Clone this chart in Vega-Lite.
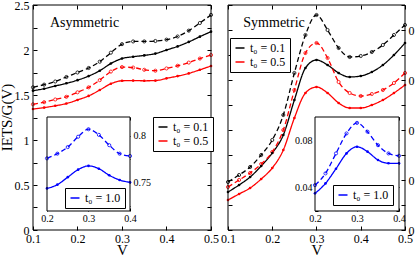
{
 "$schema": "https://vega.github.io/schema/vega-lite/v6.json",
 "width": 415, "height": 256, "autosize": {"type": "none"}, "padding": 0,
 "background": "white",
 "datasets": {
  "asym": [
   {"x":0.1,"y":1.585,"t":"t₀ = 0.1","set":"b"},{"x":0.125,"y":1.615,"t":"t₀ = 0.1","set":"b"},{"x":0.15,"y":1.65,"t":"t₀ = 0.1","set":"b"},{"x":0.175,"y":1.70,"t":"t₀ = 0.1","set":"b"},{"x":0.2,"y":1.75,"t":"t₀ = 0.1","set":"b"},{"x":0.225,"y":1.80,"t":"t₀ = 0.1","set":"b"},{"x":0.25,"y":1.87,"t":"t₀ = 0.1","set":"b"},{"x":0.275,"y":1.97,"t":"t₀ = 0.1","set":"b"},{"x":0.3,"y":2.065,"t":"t₀ = 0.1","set":"b"},{"x":0.325,"y":2.095,"t":"t₀ = 0.1","set":"b"},{"x":0.35,"y":2.095,"t":"t₀ = 0.1","set":"b"},{"x":0.375,"y":2.10,"t":"t₀ = 0.1","set":"b"},{"x":0.4,"y":2.115,"t":"t₀ = 0.1","set":"b"},{"x":0.425,"y":2.15,"t":"t₀ = 0.1","set":"b"},{"x":0.45,"y":2.215,"t":"t₀ = 0.1","set":"b"},{"x":0.475,"y":2.30,"t":"t₀ = 0.1","set":"b"},{"x":0.5,"y":2.39,"t":"t₀ = 0.1","set":"b"},
   {"x":0.1,"y":1.548,"t":"t₀ = 0.1","set":"a"},{"x":0.125,"y":1.57,"t":"t₀ = 0.1","set":"a"},{"x":0.15,"y":1.60,"t":"t₀ = 0.1","set":"a"},{"x":0.175,"y":1.63,"t":"t₀ = 0.1","set":"a"},{"x":0.2,"y":1.665,"t":"t₀ = 0.1","set":"a"},{"x":0.225,"y":1.71,"t":"t₀ = 0.1","set":"a"},{"x":0.25,"y":1.77,"t":"t₀ = 0.1","set":"a"},{"x":0.275,"y":1.85,"t":"t₀ = 0.1","set":"a"},{"x":0.3,"y":1.905,"t":"t₀ = 0.1","set":"a"},{"x":0.325,"y":1.925,"t":"t₀ = 0.1","set":"a"},{"x":0.35,"y":1.94,"t":"t₀ = 0.1","set":"a"},{"x":0.375,"y":1.96,"t":"t₀ = 0.1","set":"a"},{"x":0.4,"y":2.0,"t":"t₀ = 0.1","set":"a"},{"x":0.425,"y":2.04,"t":"t₀ = 0.1","set":"a"},{"x":0.45,"y":2.09,"t":"t₀ = 0.1","set":"a"},{"x":0.475,"y":2.148,"t":"t₀ = 0.1","set":"a"},{"x":0.5,"y":2.204,"t":"t₀ = 0.1","set":"a"},
   {"x":0.1,"y":1.396,"t":"t₀ = 0.5","set":"b"},{"x":0.125,"y":1.42,"t":"t₀ = 0.5","set":"b"},{"x":0.15,"y":1.45,"t":"t₀ = 0.5","set":"b"},{"x":0.175,"y":1.48,"t":"t₀ = 0.5","set":"b"},{"x":0.2,"y":1.53,"t":"t₀ = 0.5","set":"b"},{"x":0.225,"y":1.585,"t":"t₀ = 0.5","set":"b"},{"x":0.25,"y":1.665,"t":"t₀ = 0.5","set":"b"},{"x":0.275,"y":1.76,"t":"t₀ = 0.5","set":"b"},{"x":0.3,"y":1.81,"t":"t₀ = 0.5","set":"b"},{"x":0.325,"y":1.805,"t":"t₀ = 0.5","set":"b"},{"x":0.35,"y":1.78,"t":"t₀ = 0.5","set":"b"},{"x":0.375,"y":1.77,"t":"t₀ = 0.5","set":"b"},{"x":0.4,"y":1.795,"t":"t₀ = 0.5","set":"b"},{"x":0.425,"y":1.825,"t":"t₀ = 0.5","set":"b"},{"x":0.45,"y":1.86,"t":"t₀ = 0.5","set":"b"},{"x":0.475,"y":1.905,"t":"t₀ = 0.5","set":"b"},{"x":0.5,"y":1.944,"t":"t₀ = 0.5","set":"b"},
   {"x":0.1,"y":1.344,"t":"t₀ = 0.5","set":"a"},{"x":0.125,"y":1.36,"t":"t₀ = 0.5","set":"a"},{"x":0.15,"y":1.38,"t":"t₀ = 0.5","set":"a"},{"x":0.175,"y":1.405,"t":"t₀ = 0.5","set":"a"},{"x":0.2,"y":1.445,"t":"t₀ = 0.5","set":"a"},{"x":0.225,"y":1.49,"t":"t₀ = 0.5","set":"a"},{"x":0.25,"y":1.555,"t":"t₀ = 0.5","set":"a"},{"x":0.275,"y":1.625,"t":"t₀ = 0.5","set":"a"},{"x":0.3,"y":1.658,"t":"t₀ = 0.5","set":"a"},{"x":0.325,"y":1.66,"t":"t₀ = 0.5","set":"a"},{"x":0.35,"y":1.658,"t":"t₀ = 0.5","set":"a"},{"x":0.375,"y":1.66,"t":"t₀ = 0.5","set":"a"},{"x":0.4,"y":1.685,"t":"t₀ = 0.5","set":"a"},{"x":0.425,"y":1.71,"t":"t₀ = 0.5","set":"a"},{"x":0.45,"y":1.74,"t":"t₀ = 0.5","set":"a"},{"x":0.475,"y":1.78,"t":"t₀ = 0.5","set":"a"},{"x":0.5,"y":1.822,"t":"t₀ = 0.5","set":"a"}
  ],
  "sym": [
   {"x":0.1,"y":0.048,"t":"t₀ = 0.1","set":"b"},{"x":0.125,"y":0.055,"t":"t₀ = 0.1","set":"b"},{"x":0.15,"y":0.063,"t":"t₀ = 0.1","set":"b"},{"x":0.175,"y":0.075,"t":"t₀ = 0.1","set":"b"},{"x":0.2,"y":0.09,"t":"t₀ = 0.1","set":"b"},{"x":0.225,"y":0.115,"t":"t₀ = 0.1","set":"b"},{"x":0.25,"y":0.157,"t":"t₀ = 0.1","set":"b"},{"x":0.275,"y":0.195,"t":"t₀ = 0.1","set":"b"},{"x":0.3,"y":0.215,"t":"t₀ = 0.1","set":"b"},{"x":0.325,"y":0.2,"t":"t₀ = 0.1","set":"b"},{"x":0.35,"y":0.182,"t":"t₀ = 0.1","set":"b"},{"x":0.375,"y":0.173,"t":"t₀ = 0.1","set":"b"},{"x":0.4,"y":0.174,"t":"t₀ = 0.1","set":"b"},{"x":0.425,"y":0.178,"t":"t₀ = 0.1","set":"b"},{"x":0.45,"y":0.185,"t":"t₀ = 0.1","set":"b"},{"x":0.475,"y":0.195,"t":"t₀ = 0.1","set":"b"},{"x":0.5,"y":0.205,"t":"t₀ = 0.1","set":"b"},
   {"x":0.1,"y":0.038,"t":"t₀ = 0.1","set":"a"},{"x":0.125,"y":0.045,"t":"t₀ = 0.1","set":"a"},{"x":0.15,"y":0.053,"t":"t₀ = 0.1","set":"a"},{"x":0.175,"y":0.064,"t":"t₀ = 0.1","set":"a"},{"x":0.2,"y":0.077,"t":"t₀ = 0.1","set":"a"},{"x":0.225,"y":0.095,"t":"t₀ = 0.1","set":"a"},{"x":0.25,"y":0.13,"t":"t₀ = 0.1","set":"a"},{"x":0.275,"y":0.162,"t":"t₀ = 0.1","set":"a"},{"x":0.3,"y":0.17,"t":"t₀ = 0.1","set":"a"},{"x":0.325,"y":0.165,"t":"t₀ = 0.1","set":"a"},{"x":0.35,"y":0.157,"t":"t₀ = 0.1","set":"a"},{"x":0.375,"y":0.153,"t":"t₀ = 0.1","set":"a"},{"x":0.4,"y":0.154,"t":"t₀ = 0.1","set":"a"},{"x":0.425,"y":0.158,"t":"t₀ = 0.1","set":"a"},{"x":0.45,"y":0.165,"t":"t₀ = 0.1","set":"a"},{"x":0.475,"y":0.175,"t":"t₀ = 0.1","set":"a"},{"x":0.5,"y":0.187,"t":"t₀ = 0.1","set":"a"},
   {"x":0.1,"y":0.043,"t":"t₀ = 0.5","set":"b"},{"x":0.125,"y":0.05,"t":"t₀ = 0.5","set":"b"},{"x":0.15,"y":0.057,"t":"t₀ = 0.5","set":"b"},{"x":0.175,"y":0.066,"t":"t₀ = 0.5","set":"b"},{"x":0.2,"y":0.078,"t":"t₀ = 0.5","set":"b"},{"x":0.225,"y":0.1,"t":"t₀ = 0.5","set":"b"},{"x":0.25,"y":0.14,"t":"t₀ = 0.5","set":"b"},{"x":0.275,"y":0.177,"t":"t₀ = 0.5","set":"b"},{"x":0.3,"y":0.187,"t":"t₀ = 0.5","set":"b"},{"x":0.325,"y":0.172,"t":"t₀ = 0.5","set":"b"},{"x":0.35,"y":0.148,"t":"t₀ = 0.5","set":"b"},{"x":0.375,"y":0.137,"t":"t₀ = 0.5","set":"b"},{"x":0.4,"y":0.134,"t":"t₀ = 0.5","set":"b"},{"x":0.425,"y":0.136,"t":"t₀ = 0.5","set":"b"},{"x":0.45,"y":0.14,"t":"t₀ = 0.5","set":"b"},{"x":0.475,"y":0.147,"t":"t₀ = 0.5","set":"b"},{"x":0.5,"y":0.157,"t":"t₀ = 0.5","set":"b"},
   {"x":0.1,"y":0.03,"t":"t₀ = 0.5","set":"a"},{"x":0.125,"y":0.036,"t":"t₀ = 0.5","set":"a"},{"x":0.15,"y":0.042,"t":"t₀ = 0.5","set":"a"},{"x":0.175,"y":0.051,"t":"t₀ = 0.5","set":"a"},{"x":0.2,"y":0.062,"t":"t₀ = 0.5","set":"a"},{"x":0.225,"y":0.08,"t":"t₀ = 0.5","set":"a"},{"x":0.25,"y":0.112,"t":"t₀ = 0.5","set":"a"},{"x":0.275,"y":0.137,"t":"t₀ = 0.5","set":"a"},{"x":0.3,"y":0.143,"t":"t₀ = 0.5","set":"a"},{"x":0.325,"y":0.137,"t":"t₀ = 0.5","set":"a"},{"x":0.35,"y":0.127,"t":"t₀ = 0.5","set":"a"},{"x":0.375,"y":0.122,"t":"t₀ = 0.5","set":"a"},{"x":0.4,"y":0.122,"t":"t₀ = 0.5","set":"a"},{"x":0.425,"y":0.125,"t":"t₀ = 0.5","set":"a"},{"x":0.45,"y":0.13,"t":"t₀ = 0.5","set":"a"},{"x":0.475,"y":0.137,"t":"t₀ = 0.5","set":"a"},{"x":0.5,"y":0.145,"t":"t₀ = 0.5","set":"a"}
  ],
  "asymInset": [
   {"x":0.2,"y":0.776,"t":"t₀ = 1.0","set":"b"},{"x":0.225,"y":0.781,"t":"t₀ = 1.0","set":"b"},{"x":0.25,"y":0.788,"t":"t₀ = 1.0","set":"b"},{"x":0.275,"y":0.799,"t":"t₀ = 1.0","set":"b"},{"x":0.3,"y":0.807,"t":"t₀ = 1.0","set":"b"},{"x":0.325,"y":0.801,"t":"t₀ = 1.0","set":"b"},{"x":0.35,"y":0.790,"t":"t₀ = 1.0","set":"b"},{"x":0.375,"y":0.781,"t":"t₀ = 1.0","set":"b"},{"x":0.4,"y":0.7785,"t":"t₀ = 1.0","set":"b"},
   {"x":0.2,"y":0.744,"t":"t₀ = 1.0","set":"a"},{"x":0.225,"y":0.748,"t":"t₀ = 1.0","set":"a"},{"x":0.25,"y":0.756,"t":"t₀ = 1.0","set":"a"},{"x":0.275,"y":0.764,"t":"t₀ = 1.0","set":"a"},{"x":0.3,"y":0.768,"t":"t₀ = 1.0","set":"a"},{"x":0.325,"y":0.765,"t":"t₀ = 1.0","set":"a"},{"x":0.35,"y":0.758,"t":"t₀ = 1.0","set":"a"},{"x":0.375,"y":0.753,"t":"t₀ = 1.0","set":"a"},{"x":0.4,"y":0.7505,"t":"t₀ = 1.0","set":"a"}
  ],
  "symInset": [
   {"x":0.2,"y":0.042,"t":"t₀ = 1.0","set":"b"},{"x":0.225,"y":0.052,"t":"t₀ = 1.0","set":"b"},{"x":0.25,"y":0.069,"t":"t₀ = 1.0","set":"b"},{"x":0.275,"y":0.086,"t":"t₀ = 1.0","set":"b"},{"x":0.3,"y":0.095,"t":"t₀ = 1.0","set":"b"},{"x":0.325,"y":0.0875,"t":"t₀ = 1.0","set":"b"},{"x":0.35,"y":0.076,"t":"t₀ = 1.0","set":"b"},{"x":0.375,"y":0.069,"t":"t₀ = 1.0","set":"b"},{"x":0.4,"y":0.067,"t":"t₀ = 1.0","set":"b"},
   {"x":0.2,"y":0.035,"t":"t₀ = 1.0","set":"a"},{"x":0.225,"y":0.0435,"t":"t₀ = 1.0","set":"a"},{"x":0.25,"y":0.056,"t":"t₀ = 1.0","set":"a"},{"x":0.275,"y":0.069,"t":"t₀ = 1.0","set":"a"},{"x":0.3,"y":0.0747,"t":"t₀ = 1.0","set":"a"},{"x":0.325,"y":0.0705,"t":"t₀ = 1.0","set":"a"},{"x":0.35,"y":0.0634,"t":"t₀ = 1.0","set":"a"},{"x":0.375,"y":0.0606,"t":"t₀ = 1.0","set":"a"},{"x":0.4,"y":0.0606,"t":"t₀ = 1.0","set":"a"}
  ]
 },
 "layer": [
  {
   "data": {"name": "asym"},
   "encoding": {
    "x": {"field": "x", "type": "quantitative", "scale": {"domain": [0.0258427, 0.958427], "nice": false, "zero": false},
          "axis": {"orient": "bottom", "offset": -26, "values": [0.1, 0.2, 0.3, 0.4, 0.5], "format": ".1f", "tickSize": -4, "labelPadding": 7, "title": "V", "titleX": 122, "titleY": 24, "titleBaseline": "alphabetic", "titleAlign": "center"}},
    "y": {"field": "y", "type": "quantitative", "scale": {"domain": [-0.2888889, 2.5555556], "nice": false, "zero": false},
          "axis": {"orient": "left", "offset": -33, "values": [0, 0.25, 0.5, 0.75, 1, 1.25, 1.5, 1.75, 2, 2.25, 2.5], "labelExpr": "datum.value % 0.5 == 0 ? format(datum.value, '.1~f') : ''", "tickSize": -4, "labelPadding": 8, "title": "IETS/G(V)", "titleX": -22, "titleY": 117, "titleAngle": -90, "titleBaseline": "alphabetic", "titleAlign": "center"}},
    "color": {"field": "t", "type": "nominal", "scale": {"domain": ["t₀ = 0.1", "t₀ = 0.5"], "range": ["#000000", "#ff0000"]},
              "legend": {"title": null, "orient": "none", "legendX": 153, "legendY": 117, "symbolType": "stroke"}}
   },
   "layer": [
    {"mark": {"type": "line", "strokeWidth": 1.3, "interpolate": "monotone"},
     "encoding": {"strokeDash": {"field": "set", "type": "nominal", "scale": {"domain": ["a", "b"], "range": [[1, 0], [5, 3]]}, "legend": null}}},
    {"transform": [{"filter": "datum.set === 'b'"}], "mark": {"type": "point", "filled": false, "size": 10, "strokeWidth": 0.8, "opacity": 1}},
    {"transform": [{"filter": "datum.set === 'a'"}], "mark": {"type": "point", "filled": true, "size": 7, "opacity": 1}}
   ]
  },
  {
   "data": {"values": [{}]},
   "mark": {"type": "rect", "filled": false, "color": "black", "strokeWidth": 1},
   "encoding": {
    "x": {"datum": 0.1, "type": "quantitative", "scale": {"domain": [0.0258427, 0.958427], "nice": false, "zero": false},
          "axis": {"orient": "top", "offset": -5, "values": [0.1, 0.2, 0.3, 0.4, 0.5], "tickSize": -4, "labels": false, "title": null}},
    "x2": {"datum": 0.5},
    "y": {"datum": 0, "type": "quantitative", "scale": {"domain": [-0.2888889, 2.5555556], "nice": false, "zero": false},
          "axis": {"orient": "right", "offset": -204, "values": [0, 0.25, 0.5, 0.75, 1, 1.25, 1.5, 1.75, 2, 2.25, 2.5], "tickSize": -4, "labels": false, "title": null}},
    "y2": {"datum": 2.5}
   }
  },
  {
   "data": {"values": [{}]},
   "mark": {"type": "text", "align": "left", "baseline": "alphabetic", "fontSize": 14, "font": "Liberation Serif", "color": "black"},
   "encoding": {
    "x": {"datum": 0.138, "type": "quantitative", "scale": {"domain": [0.0258427, 0.958427], "nice": false, "zero": false}, "axis": {"orient": "top", "ticks": false, "labels": false, "title": null}},
    "y": {"datum": 2.256, "type": "quantitative", "scale": {"domain": [-0.2888889, 2.5555556], "nice": false, "zero": false}, "axis": {"orient": "right", "ticks": false, "labels": false, "title": null}},
    "text": {"value": "Asymmetric"}
   }
  },
  {
   "data": {"name": "sym"},
   "encoding": {
    "x": {"field": "x", "type": "quantitative", "scale": {"domain": [-0.4152542, 0.5225989], "nice": false, "zero": false},
          "axis": {"orient": "bottom", "offset": -26, "values": [0.1, 0.2, 0.3, 0.4, 0.5], "format": ".1f", "tickSize": -4, "labelPadding": 7, "title": "V", "titleX": 316.5, "titleY": 24, "titleBaseline": "alphabetic", "titleAlign": "center"}},
    "y": {"field": "y", "type": "quantitative", "scale": {"domain": [-0.026, 0.23], "nice": false, "zero": false},
          "axis": {"orient": "right", "offset": -10, "values": [0, 0.025, 0.05, 0.075, 0.1, 0.125, 0.15, 0.175, 0.2, 0.225], "labelExpr": "round(datum.value * 1000) % 50 == 0 ? format(datum.value, '.2~f') : ''", "tickSize": -4, "labelPadding": 7, "title": null}},
    "color": {"field": "t", "type": "nominal", "scale": {"domain": ["t₀ = 0.1", "t₀ = 0.5"], "range": ["#000000", "#ff0000"]},
              "legend": {"title": null, "orient": "none", "legendX": 230, "legendY": 38, "symbolType": "stroke"}}
   },
   "layer": [
    {"mark": {"type": "line", "strokeWidth": 1.3, "interpolate": "monotone"},
     "encoding": {"strokeDash": {"field": "set", "type": "nominal", "scale": {"domain": ["a", "b"], "range": [[1, 0], [5, 3]]}, "legend": null}}},
    {"transform": [{"filter": "datum.set === 'b'"}], "mark": {"type": "point", "filled": false, "size": 10, "strokeWidth": 0.8, "opacity": 1}},
    {"transform": [{"filter": "datum.set === 'a'"}], "mark": {"type": "point", "filled": true, "size": 7, "opacity": 1}}
   ]
  },
  {
   "data": {"values": [{}]},
   "mark": {"type": "rect", "filled": false, "color": "black", "strokeWidth": 1},
   "encoding": {
    "x": {"datum": 0.1, "type": "quantitative", "scale": {"domain": [-0.4152542, 0.5225989], "nice": false, "zero": false},
          "axis": {"orient": "top", "offset": -5, "values": [0.1, 0.2, 0.3, 0.4, 0.5], "tickSize": -4, "labels": false, "title": null}},
    "x2": {"datum": 0.5},
    "y": {"datum": 0, "type": "quantitative", "scale": {"domain": [-0.026, 0.23], "nice": false, "zero": false},
          "axis": {"orient": "left", "offset": -228, "values": [0, 0.025, 0.05, 0.075, 0.1, 0.125, 0.15, 0.175, 0.2, 0.225], "tickSize": -4, "labels": false, "title": null}},
    "y2": {"datum": 0.225}
   }
  },
  {
   "data": {"values": [{}]},
   "mark": {"type": "text", "align": "left", "baseline": "alphabetic", "fontSize": 14, "font": "Liberation Serif", "color": "black"},
   "encoding": {
    "x": {"datum": 0.1346, "type": "quantitative", "scale": {"domain": [-0.4152542, 0.5225989], "nice": false, "zero": false}, "axis": {"orient": "top", "ticks": false, "labels": false, "title": null}},
    "y": {"datum": 0.2027, "type": "quantitative", "scale": {"domain": [-0.026, 0.23], "nice": false, "zero": false}, "axis": {"orient": "right", "ticks": false, "labels": false, "title": null}},
    "text": {"value": "Symmetric"}
   }
  },
  {
   "data": {"values": [{}]},
   "mark": {"type": "rect", "color": "white"},
   "encoding": {
    "x": {"datum": 0.2, "type": "quantitative", "scale": {"domain": [0.086747, 1.086747], "nice": false, "zero": false}, "axis": {"orient": "top", "ticks": false, "labels": false, "title": null}},
    "x2": {"datum": 0.4},
    "y": {"datum": 0.72, "type": "quantitative", "scale": {"domain": [0.6721277, 0.9444681], "nice": false, "zero": false}, "axis": {"orient": "right", "ticks": false, "labels": false, "title": null}},
    "y2": {"datum": 0.82}
   }
  },
  {
   "data": {"name": "asymInset"},
   "encoding": {
    "x": {"field": "x", "type": "quantitative", "scale": {"domain": [0.086747, 1.086747], "nice": false, "zero": false},
          "axis": {"orient": "bottom", "offset": -45, "values": [0.2, 0.3, 0.4], "format": ".1f", "tickSize": -3, "labelPadding": 5, "labelFontSize": 10, "title": null}},
    "y": {"field": "y", "type": "quantitative", "scale": {"domain": [0.6721277, 0.9444681], "nice": false, "zero": false},
          "axis": {"orient": "right", "offset": -285, "values": [0.725, 0.75, 0.775, 0.8], "labelExpr": "round(datum.value * 1000) % 50 == 0 ? format(datum.value, '.2~f') : ''", "tickSize": -3, "labelPadding": 6, "labelFontSize": 10, "title": null}},
    "color": {"field": "t", "type": "nominal", "scale": {"domain": ["t₀ = 1.0"], "range": ["#0000ff"]},
              "legend": {"title": null, "orient": "none", "legendX": 65, "legendY": 188, "symbolType": "stroke"}}
   },
   "layer": [
    {"mark": {"type": "line", "strokeWidth": 1.3, "interpolate": "monotone"},
     "encoding": {"strokeDash": {"field": "set", "type": "nominal", "scale": {"domain": ["a", "b"], "range": [[1, 0], [5, 3]]}, "legend": null}}},
    {"transform": [{"filter": "datum.set === 'b'"}], "mark": {"type": "point", "filled": false, "size": 10, "strokeWidth": 0.8, "opacity": 1}},
    {"transform": [{"filter": "datum.set === 'a'"}], "mark": {"type": "point", "filled": true, "size": 7, "opacity": 1}}
   ]
  },
  {
   "data": {"values": [{}]},
   "mark": {"type": "rect", "filled": false, "color": "black", "strokeWidth": 1},
   "encoding": {
    "x": {"datum": 0.2, "type": "quantitative", "scale": {"domain": [0.086747, 1.086747], "nice": false, "zero": false},
          "axis": {"orient": "top", "offset": -117, "values": [0.2, 0.3, 0.4], "tickSize": -3, "labels": false, "title": null}},
    "x2": {"datum": 0.4},
    "y": {"datum": 0.72, "type": "quantitative", "scale": {"domain": [0.6721277, 0.9444681], "nice": false, "zero": false},
          "axis": {"orient": "left", "offset": -47, "values": [0.725, 0.75, 0.775, 0.8], "tickSize": -3, "labels": false, "title": null}},
    "y2": {"datum": 0.82}
   }
  },
  {
   "data": {"values": [{}]},
   "mark": {"type": "rect", "color": "white"},
   "encoding": {
    "x": {"datum": 0.2, "type": "quantitative", "scale": {"domain": [-0.55, 0.4380952], "nice": false, "zero": false}, "axis": {"orient": "top", "ticks": false, "labels": false, "title": null}},
    "x2": {"datum": 0.4},
    "y": {"datum": 0.02, "type": "quantitative", "scale": {"domain": [-0.0182979, 0.1995745], "nice": false, "zero": false}, "axis": {"orient": "right", "ticks": false, "labels": false, "title": null}},
    "y2": {"datum": 0.1}
   }
  },
  {
   "data": {"name": "symInset"},
   "encoding": {
    "x": {"field": "x", "type": "quantitative", "scale": {"domain": [-0.55, 0.4380952], "nice": false, "zero": false},
          "axis": {"orient": "bottom", "offset": -45, "values": [0.2, 0.3, 0.4], "format": ".1f", "tickSize": -3, "labelPadding": 5, "labelFontSize": 10, "title": null}},
    "y": {"field": "y", "type": "quantitative", "scale": {"domain": [-0.0182979, 0.1995745], "nice": false, "zero": false},
          "axis": {"orient": "left", "offset": -315, "values": [0.02, 0.04, 0.06, 0.08, 0.1], "labelExpr": "round(datum.value * 100) % 4 == 0 ? format(datum.value, '.2~f') : ''", "tickSize": -3, "labelPadding": 6, "labelFontSize": 10, "title": null}},
    "color": {"field": "t", "type": "nominal", "scale": {"domain": ["t₀ = 1.0"], "range": ["#0000ff"]},
              "legend": {"title": null, "orient": "none", "legendX": 333, "legendY": 185, "symbolType": "stroke"}}
   },
   "layer": [
    {"mark": {"type": "line", "strokeWidth": 1.3, "interpolate": "monotone"},
     "encoding": {"strokeDash": {"field": "set", "type": "nominal", "scale": {"domain": ["a", "b"], "range": [[1, 0], [5, 3]]}, "legend": null}}},
    {"transform": [{"filter": "datum.set === 'b'"}], "mark": {"type": "point", "filled": false, "size": 10, "strokeWidth": 0.8, "opacity": 1}},
    {"transform": [{"filter": "datum.set === 'a'"}], "mark": {"type": "point", "filled": true, "size": 7, "opacity": 1}}
   ]
  },
  {
   "data": {"values": [{}]},
   "mark": {"type": "rect", "filled": false, "color": "black", "strokeWidth": 1},
   "encoding": {
    "x": {"datum": 0.2, "type": "quantitative", "scale": {"domain": [-0.55, 0.4380952], "nice": false, "zero": false},
          "axis": {"orient": "top", "offset": -117, "values": [0.2, 0.3, 0.4], "tickSize": -3, "labels": false, "title": null}},
    "x2": {"datum": 0.4},
    "y": {"datum": 0.02, "type": "quantitative", "scale": {"domain": [-0.0182979, 0.1995745], "nice": false, "zero": false},
          "axis": {"orient": "right", "offset": -16, "values": [0.02, 0.04, 0.06, 0.08, 0.1], "tickSize": -3, "labels": false, "title": null}},
    "y2": {"datum": 0.1}
   }
  }
 ],
 "resolve": {
  "scale": {"x": "independent", "y": "independent", "color": "independent", "strokeDash": "independent"},
  "axis": {"x": "independent", "y": "independent"},
  "legend": {"color": "independent"}
 },
 "config": {
  "view": {"stroke": null},
  "axis": {"domain": false, "grid": false, "tickColor": "black", "tickWidth": 1, "labelColor": "black", "titleColor": "black",
           "labelFont": "Liberation Serif", "titleFont": "Liberation Serif", "titleFontWeight": "normal", "labelFontSize": 12, "titleFontSize": 15,
           "labelOverlap": false, "labelFlush": false},
  "legend": {"strokeColor": "black", "fillColor": "white", "padding": 4, "cornerRadius": 0, "symbolSize": 81, "symbolStrokeWidth": 1.5,
             "labelFont": "Liberation Serif", "labelFontSize": 12, "labelColor": "black", "rowPadding": 2, "labelOffset": 4}
 }
}
